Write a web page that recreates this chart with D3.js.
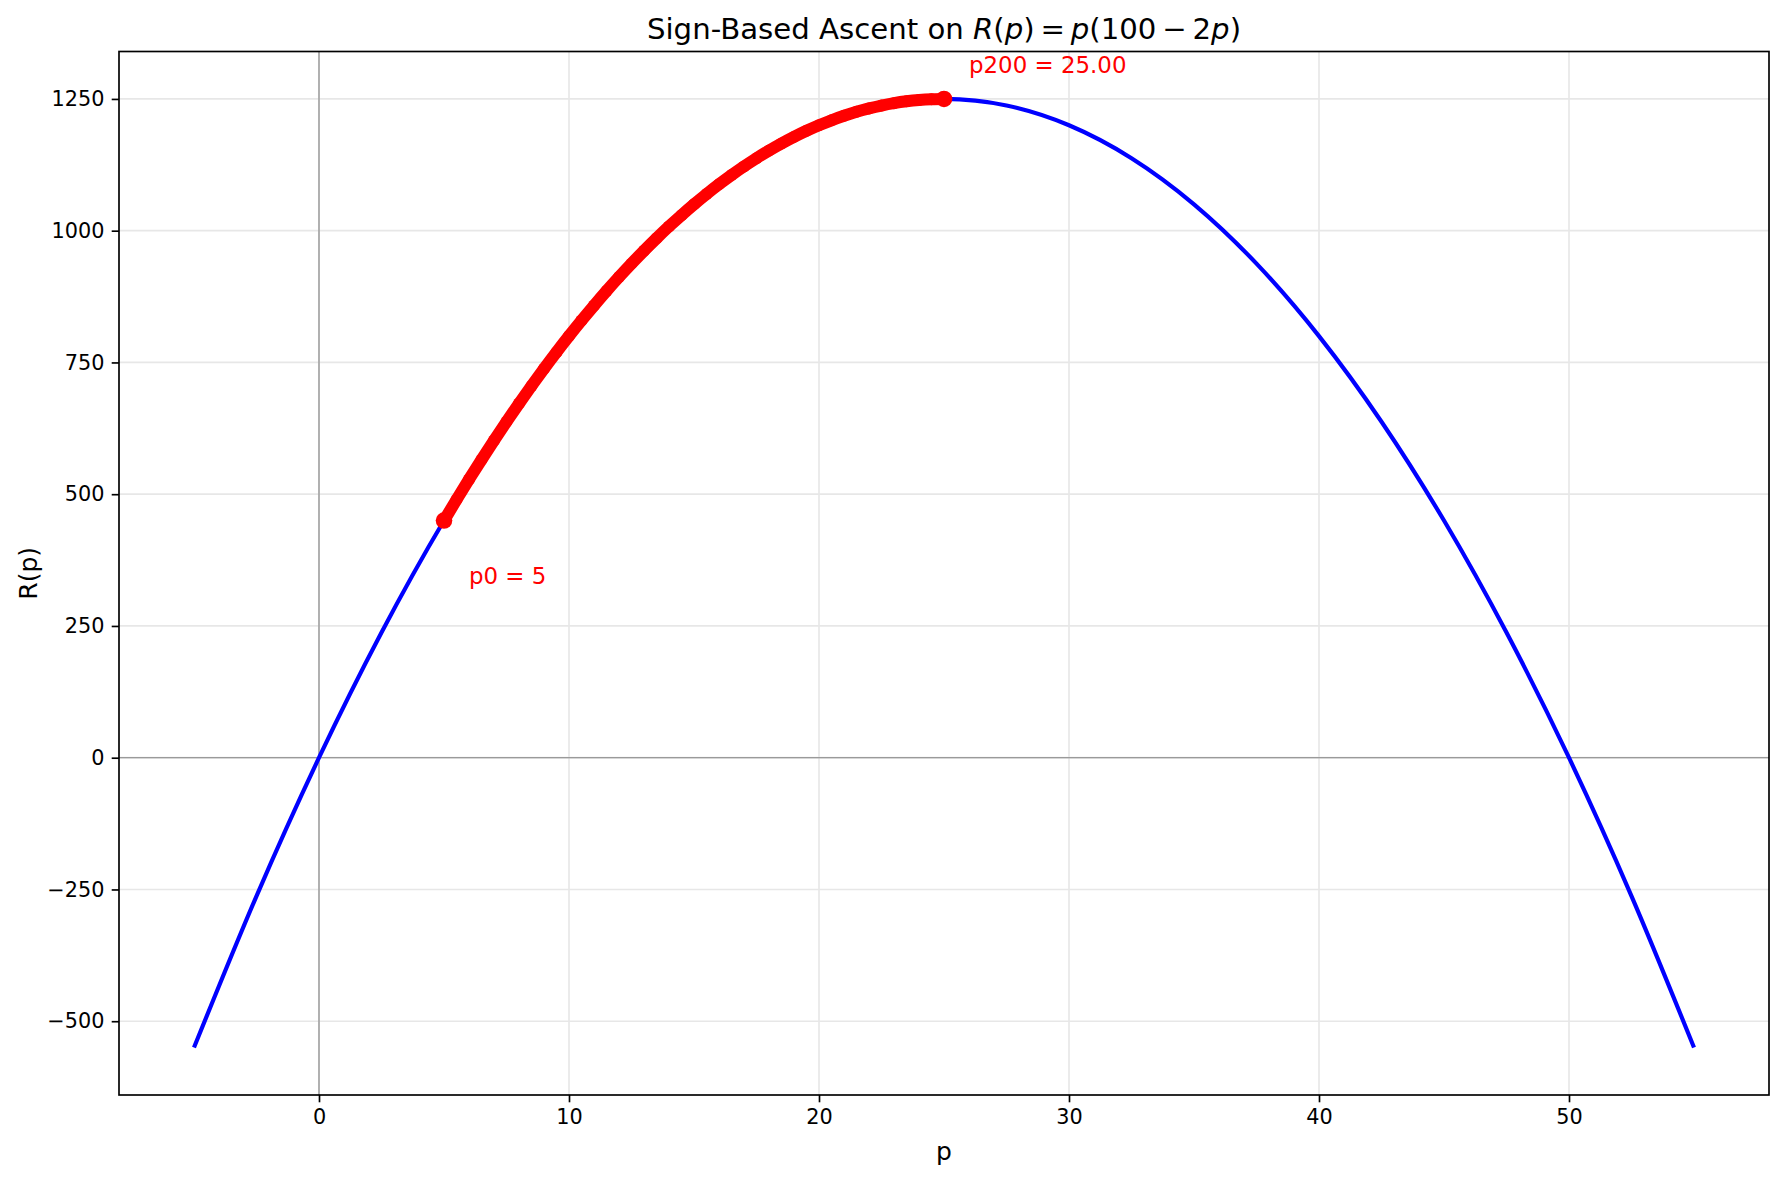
<!DOCTYPE html>
<html>
<head>
<meta charset="utf-8">
<script src="https://cdn.jsdelivr.net/npm/d3@7"></script>
<style>
    body { margin: 0; background: #fff; }
    svg { display: block; font-family: "DejaVu Sans", sans-serif; }
</style>
</head>
<body>
<svg class="chart-svg" width="1782" height="1179"></svg>
<script>
// blue curve R(p), sampled every 2.5
let curveP = [-5, -2.5, 0, 2.5, 5, 7.5, 10, 12.5, 15, 17.5, 20, 22.5, 25, 27.5, 30, 32.5, 35, 37.5, 40, 42.5, 45, 47.5, 50, 52.5, 55]
let curveR = [-550, -262.5, 0, 237.5, 450, 637.5, 800, 937.5, 1050, 1137.5, 1200, 1237.5, 1250, 1237.5, 1200, 1137.5, 1050, 937.5, 800, 637.5, 450, 237.5, 0, -262.5, -550]

// red ascent path (iterates p0 .. p200)
let pathP = [5, 5.5, 6, 6.5, 7, 7.5, 8, 8.5, 9, 9.5, 10, 10.5, 11, 11.5, 12, 12.5, 13, 13.5, 14, 14.5, 15, 15.5, 16, 16.5, 17, 17.5, 18, 18.5, 19, 19.5, 20, 20.5, 21, 21.5, 22, 22.5, 23, 23.5, 24, 24.5, 25]
let pathR = [450, 489.5, 528, 565.5, 602, 637.5, 672, 705.5, 738, 769.5, 800, 829.5, 858, 885.5, 912, 937.5, 962, 985.5, 1008, 1029.5, 1050, 1069.5, 1088, 1105.5, 1122, 1137.5, 1152, 1165.5, 1178, 1189.5, 1200, 1209.5, 1218, 1225.5, 1232, 1237.5, 1242, 1245.5, 1248, 1249.5, 1250]

// start / end points and their labels
let endP = [5, 25]
let endR = [450, 1250]
let labelText = ["p0 = 5", "p200 = 25.00"]
let labelP = [6, 26]
let labelR = [330, 1300]

// ticks
let xTickValues = [0, 10, 20, 30, 40, 50]
let yTickValues = [-500, -250, 0, 250, 500, 750, 1000, 1250]
let xDomain = [-8, 58]
let yDomain = [-640, 1340]

let svg = d3.select(".chart-svg")

// plot area
let plotLeft = 119
let plotRight = 1769
let plotTop = 51.5
let plotBottom = 1095
let plotWidth = plotRight - plotLeft
let plotHeight = plotBottom - plotTop

let x = d3.scaleLinear().domain(xDomain).range([plotLeft, plotRight])
let y = d3.scaleLinear().domain(yDomain).range([plotBottom, plotTop])

svg.append("defs").append("clipPath").attr("id", "plot-clip")
    .append("rect")
    .attr("x", plotLeft).attr("y", plotTop)
    .attr("width", plotWidth).attr("height", plotHeight)

// grid
let grid = svg.append("g").attr("class", "grid")
grid.selectAll(".vgrid").data(xTickValues).join("line")
    .attr("class", "vgrid")
    .attr("x1", d => x(d)).attr("x2", d => x(d))
    .attr("y1", plotTop).attr("y2", plotBottom)
    .style("stroke", "#e7e7e7").style("stroke-width", 1.67)
grid.selectAll(".hgrid").data(yTickValues).join("line")
    .attr("class", "hgrid")
    .attr("x1", plotLeft).attr("x2", plotRight)
    .attr("y1", d => y(d)).attr("y2", d => y(d))
    .style("stroke", "#e7e7e7").style("stroke-width", 1.67)

let plot = svg.append("g").attr("clip-path", "url(#plot-clip)")

// zero lines
plot.append("line")
    .attr("x1", plotLeft).attr("x2", plotRight)
    .attr("y1", y(0)).attr("y2", y(0))
    .style("stroke", "#808080").style("stroke-width", 1.1)
plot.append("line")
    .attr("x1", x(0)).attr("x2", x(0))
    .attr("y1", plotTop).attr("y2", plotBottom)
    .style("stroke", "#808080").style("stroke-width", 1.1)

// blue curve
let curveData = curveP.map((p, i) => [p, curveR[i]])
let line = d3.line()
    .x(d => x(d[0]))
    .y(d => y(d[1]))
    .curve(d3.curveMonotoneX)
plot.append("path")
    .datum(curveData)
    .attr("d", line)
    .style("fill", "none")
    .style("stroke", "#0000ff")
    .style("stroke-width", 4.17)

// red ascent path: dense markers make a thick band
let pathData = pathP.map((p, i) => [p, pathR[i]])
plot.append("path")
    .datum(pathData)
    .attr("d", line)
    .style("fill", "none")
    .style("stroke", "#ff0000")
    .style("stroke-width", 12)
    .style("stroke-linecap", "round")
plot.selectAll(".step").data(pathData).join("circle")
    .attr("class", "step")
    .attr("cx", d => x(d[0]))
    .attr("cy", d => y(d[1]))
    .attr("r", 6)
    .style("fill", "#ff0000")

// start and end
plot.selectAll(".end").data(endP).join("circle")
    .attr("class", "end")
    .attr("cx", d => x(d))
    .attr("cy", (d, i) => y(endR[i]))
    .attr("r", 8.3)
    .style("fill", "#ff0000")

// labels
svg.selectAll(".label").data(labelText).join("text")
    .attr("class", "label")
    .attr("x", (d, i) => x(labelP[i]))
    .attr("y", (d, i) => y(labelR[i]))
    .style("font-size", "22.9px")
    .style("fill", "#ff0000")
    .text(d => d)

// axes
let xAxis = d3.axisBottom(x).tickValues(xTickValues).tickSize(7.3).tickPadding(7.3).tickFormat(d3.format("d"))
let gx = svg.append("g").attr("transform", "translate(0," + plotBottom + ")").call(xAxis)
let yAxis = d3.axisLeft(y).tickValues(yTickValues).tickSize(7.3).tickPadding(7.3)
    .tickFormat(d => d < 0 ? "\u2212" + Math.abs(d) : String(d))
let gy = svg.append("g").attr("transform", "translate(" + plotLeft + ",0)").call(yAxis)

gx.select(".domain").remove()
gy.select(".domain").remove()
svg.selectAll(".tick line").style("stroke", "#000").style("stroke-width", 1.67)
svg.selectAll(".tick text")
    .style("font-family", "DejaVu Sans")
    .style("font-size", "20.8px")
    .style("fill", "#000")

// spines
svg.append("rect")
    .attr("x", plotLeft).attr("y", plotTop)
    .attr("width", plotWidth).attr("height", plotHeight)
    .style("fill", "none")
    .style("stroke", "#000")
    .style("stroke-width", 1.67)

// axis labels
svg.append("text")
    .attr("x", (plotLeft + plotRight) / 2)
    .attr("y", 1160)
    .attr("text-anchor", "middle")
    .style("font-size", "25px")
    .text("p")
svg.append("text")
    .attr("transform", "translate(37," + ((plotTop + plotBottom) / 2) + ") rotate(-90)")
    .attr("text-anchor", "middle")
    .style("font-size", "25px")
    .text("R(p)")

// title, with the math part in italic (thin spaces around operators)
let title = svg.append("text")
    .attr("x", (plotLeft + plotRight) / 2)
    .attr("y", 39)
    .attr("text-anchor", "middle")
    .style("font-size", "29.2px")
    .style("white-space", "pre")
let titleParts = [
    ["Sign-Based Ascent on ", "normal"],
    ["R", "italic"], ["(", "normal"], ["p", "italic"], [")", "normal"],
    ["\u2009=\u2009", "normal"],
    ["p", "italic"], ["(100\u2009\u2212\u20092", "normal"], ["p", "italic"], [")", "normal"]
]
title.selectAll("tspan").data(titleParts).join("tspan")
    .style("font-style", d => d[1])
    .text(d => d[0])
</script>
</body>
</html>
